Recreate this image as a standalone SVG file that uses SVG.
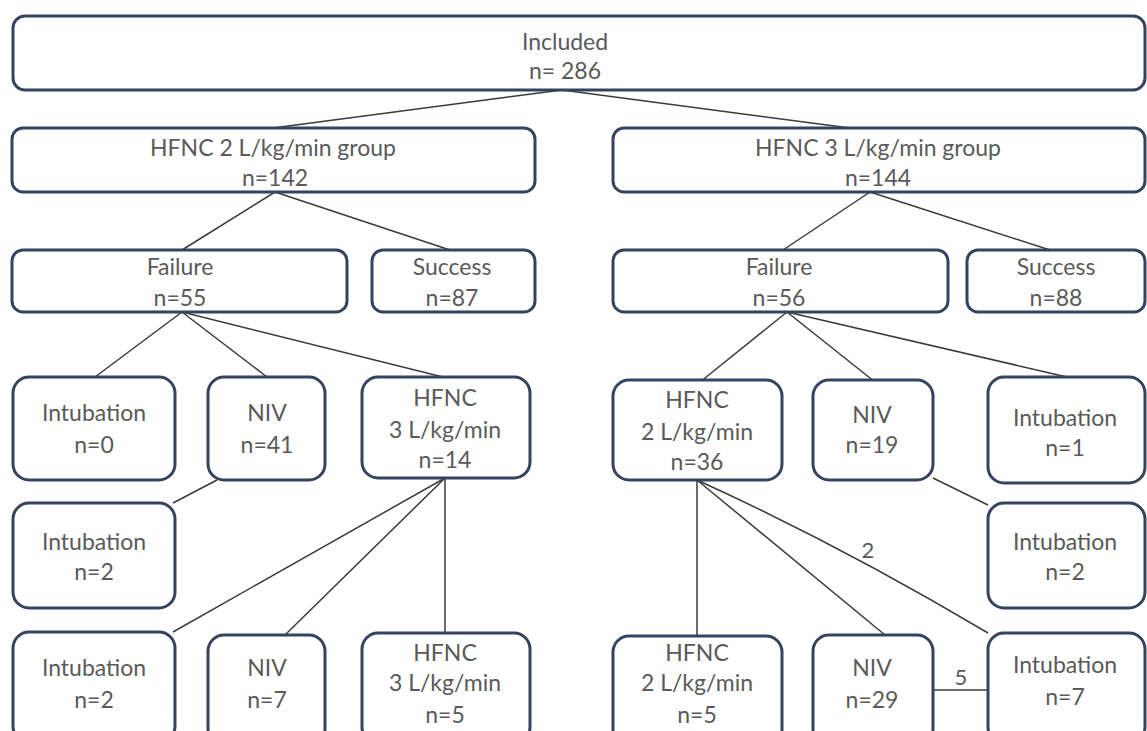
<svg xmlns="http://www.w3.org/2000/svg" width="1147" height="731" viewBox="0 0 1147 731">
<style>
.box{fill:#ffffff;stroke:#34445e;stroke-width:3}
.t{font-family:Lato,"Liberation Sans",sans-serif;font-size:23px;fill:#5a5a5a;text-anchor:middle}
.c{fill:none;stroke:#3a3a3a;stroke-width:1.5}
.lbl{font-family:Lato,"Liberation Sans",sans-serif;font-size:22px;fill:#5a5a5a;text-anchor:middle}
</style>
<rect width="1147" height="731" fill="#ffffff"/>
<g id="connectors">
<line class="c" x1="562" y1="90" x2="273" y2="128"/>
<line class="c" x1="562" y1="90" x2="850" y2="128"/>
<line class="c" x1="275" y1="192" x2="182" y2="250"/>
<line class="c" x1="275" y1="192" x2="450" y2="250"/>
<line class="c" x1="870" y1="192" x2="783" y2="250"/>
<line class="c" x1="870" y1="192" x2="1050" y2="250"/>
<line class="c" x1="182" y1="312" x2="95" y2="377"/>
<line class="c" x1="182" y1="312" x2="267" y2="377"/>
<line class="c" x1="182" y1="312" x2="443" y2="377"/>
<line class="c" x1="787" y1="312" x2="700" y2="382"/>
<line class="c" x1="787" y1="312" x2="875" y2="382"/>
<line class="c" x1="787" y1="312" x2="1067" y2="377"/>
<line class="c" x1="217" y1="480" x2="173" y2="503"/>
<line class="c" x1="445" y1="478" x2="173" y2="632"/>
<line class="c" x1="445" y1="478" x2="285" y2="635"/>
<line class="c" x1="445" y1="478" x2="445" y2="633"/>
<line class="c" x1="933" y1="478" x2="988" y2="505"/>
<line class="c" x1="697" y1="480" x2="697" y2="636"/>
<line class="c" x1="697" y1="480" x2="885" y2="635"/>
<path class="c" d="M697,480 Q840,545 988,633"/>
<line class="c" x1="933" y1="690" x2="988" y2="690"/>
<text class="lbl" x="868" y="558">2</text>
<text class="lbl" x="961" y="685">5</text>
</g>
<g id="n_included"><rect class="box" x="13" y="16" width="1132" height="74" rx="12"/><text class="t" x="565" y="50">Included</text><text class="t" x="565" y="79">n= 286</text></g>
<g id="n_hfnc2group"><rect class="box" x="12" y="128" width="523" height="64" rx="11"/><text class="t" x="273" y="156">HFNC 2 L/kg/min group</text><text class="t" x="275" y="186">n=142</text></g>
<g id="n_hfnc3group"><rect class="box" x="613" y="128" width="532" height="64" rx="11"/><text class="t" x="878" y="156">HFNC 3 L/kg/min group</text><text class="t" x="878" y="186">n=144</text></g>
<g id="n_failL"><rect class="box" x="12" y="250" width="335" height="62" rx="11"/><text class="t" x="180" y="275">Failure</text><text class="t" x="180" y="306">n=55</text></g>
<g id="n_succL"><rect class="box" x="372" y="250" width="163" height="62" rx="11"/><text class="t" x="452" y="275">Success</text><text class="t" x="452" y="306">n=87</text></g>
<g id="n_failR"><rect class="box" x="613" y="250" width="335" height="62" rx="11"/><text class="t" x="779" y="275">Failure</text><text class="t" x="779" y="306">n=56</text></g>
<g id="n_succR"><rect class="box" x="967" y="250" width="178" height="62" rx="11"/><text class="t" x="1056" y="275">Success</text><text class="t" x="1056" y="306">n=88</text></g>
<g id="n_intL0"><rect class="box" x="13" y="377" width="162" height="103" rx="16"/><text class="t" x="94" y="421">Intubation</text><text class="t" x="94" y="453">n=0</text></g>
<g id="n_niv41"><rect class="box" x="208" y="377" width="117" height="103" rx="16"/><text class="t" x="267" y="421">NIV</text><text class="t" x="267" y="453">n=41</text></g>
<g id="n_hfnc3_14"><rect class="box" x="362" y="377" width="168" height="101" rx="16"/><text class="t" x="445" y="406">HFNC</text><text class="t" x="445" y="438">3 L/kg/min</text><text class="t" x="445" y="468">n=14</text></g>
<g id="n_hfnc2_36"><rect class="box" x="613" y="380" width="169" height="100" rx="16"/><text class="t" x="697" y="408">HFNC</text><text class="t" x="697" y="440">2 L/kg/min</text><text class="t" x="697" y="470">n=36</text></g>
<g id="n_niv19"><rect class="box" x="813" y="380" width="120" height="100" rx="16"/><text class="t" x="872" y="423">NIV</text><text class="t" x="872" y="453">n=19</text></g>
<g id="n_int1"><rect class="box" x="988" y="377" width="157" height="106" rx="16"/><text class="t" x="1065" y="426">Intubation</text><text class="t" x="1065" y="456">n=1</text></g>
<g id="n_intL2"><rect class="box" x="13" y="503" width="162" height="105" rx="16"/><text class="t" x="94" y="550">Intubation</text><text class="t" x="94" y="580">n=2</text></g>
<g id="n_intR2"><rect class="box" x="988" y="503" width="157" height="105" rx="16"/><text class="t" x="1065" y="550">Intubation</text><text class="t" x="1065" y="580">n=2</text></g>
<g id="n_intL2b"><rect class="box" x="13" y="632" width="162" height="110" rx="16"/><text class="t" x="94" y="676">Intubation</text><text class="t" x="94" y="708">n=2</text></g>
<g id="n_niv7"><rect class="box" x="208" y="635" width="117" height="110" rx="16"/><text class="t" x="267" y="676">NIV</text><text class="t" x="267" y="708">n=7</text></g>
<g id="n_hfnc3_5"><rect class="box" x="362" y="633" width="168" height="110" rx="16"/><text class="t" x="445" y="661">HFNC</text><text class="t" x="445" y="691">3 L/kg/min</text><text class="t" x="445" y="723">n=5</text></g>
<g id="n_hfnc2_5"><rect class="box" x="613" y="636" width="169" height="110" rx="16"/><text class="t" x="697" y="661">HFNC</text><text class="t" x="697" y="691">2 L/kg/min</text><text class="t" x="697" y="723">n=5</text></g>
<g id="n_niv29"><rect class="box" x="813" y="635" width="120" height="110" rx="16"/><text class="t" x="872" y="676">NIV</text><text class="t" x="872" y="708">n=29</text></g>
<g id="n_int7"><rect class="box" x="988" y="633" width="157" height="110" rx="16"/><text class="t" x="1065" y="673">Intubation</text><text class="t" x="1065" y="705">n=7</text></g>
</svg>
